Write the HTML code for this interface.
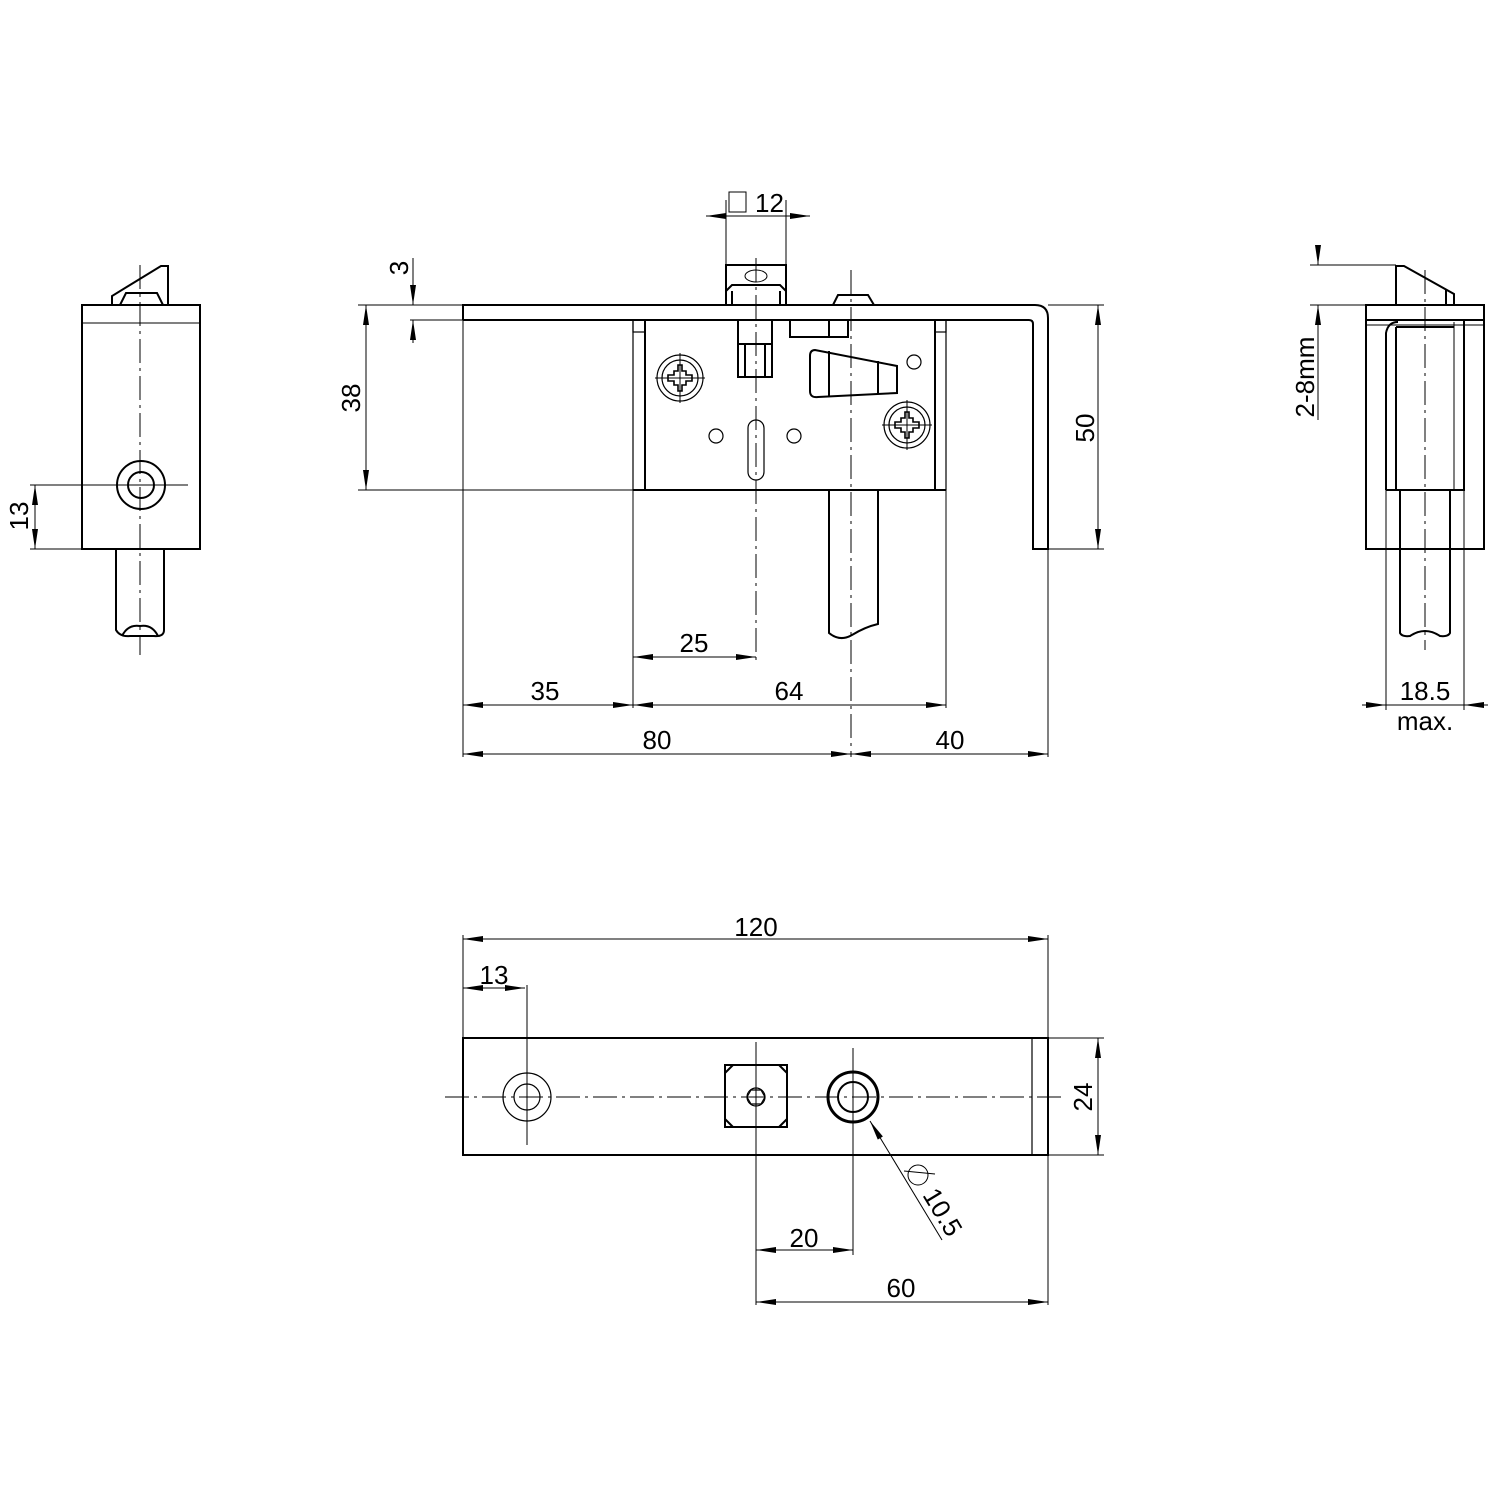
<!DOCTYPE html>
<html><head><meta charset="utf-8"><style>
html,body{margin:0;padding:0;background:#fff}
svg{display:block}
text{font-family:"Liberation Sans",Arial,sans-serif;font-size:26px;fill:#000}
</style></head><body>
<svg width="1500" height="1500" viewBox="0 0 1500 1500" xmlns="http://www.w3.org/2000/svg">
<defs>
<marker id="a" viewBox="0 0 20 8" refX="20" refY="4" markerWidth="20" markerHeight="8" markerUnits="userSpaceOnUse" orient="auto-start-reverse"><path d="M0,1 L20,4 L0,7 Z" fill="#000"/></marker>
</defs>
<g fill="none" stroke="#000">
<!-- ============ LEFT SIDE VIEW ============ -->
<g stroke-width="2">
<rect x="82" y="305" width="118" height="244"/>
<path d="M112,305 V296 L161,266 H168 V305"/>
<path d="M120,305 L126,293 H157 L163,305"/>
<circle cx="141" cy="485" r="24"/>
<circle cx="141" cy="485" r="13"/>
<path d="M116,549 V630 Q120,637 130,636 H154 Q164,637 164,630 V549"/>
<path d="M122,636 Q128,624 140,626 Q152,624 158,636"/>
</g>
<g stroke-width="1">
<line x1="82" y1="323" x2="200" y2="323"/>
<line x1="30" y1="485" x2="188" y2="485"/>
<line x1="128" y1="485" x2="154" y2="485"/>
<line x1="30" y1="549" x2="82" y2="549"/>
<line x1="140" y1="265" x2="140" y2="655" stroke-dasharray="24,5,3,5"/>
<line x1="35" y1="485" x2="35" y2="549" marker-start="url(#a)" marker-end="url(#a)"/>
</g>

<!-- ============ FRONT VIEW ============ -->
<g stroke-width="2">
<!-- plate + bend -->
<path d="M463,320 V305 H1035 Q1048,305 1048,318 V549 H1033 V324 Q1033,320 1029,320 H463"/>
<!-- lock case -->
<rect x="645" y="320" width="290" height="170"/>
<line x1="633" y1="490" x2="946" y2="490"/>
<!-- spindle block above -->
<path d="M726,305 V265 H786 V305"/>
<path d="M726,291 L732,285 H780 L786,291"/>
<line x1="732" y1="291" x2="732" y2="305"/><line x1="780" y1="291" x2="780" y2="305"/>
<!-- stub above plate -->
<path d="M833,305 L838,295 H868 L874,305"/>
<!-- spindle below plate -->
<rect x="738" y="320" width="34" height="57"/>
<line x1="738" y1="344" x2="772" y2="344"/>
<line x1="745" y1="344" x2="745" y2="377"/><line x1="765" y1="344" x2="765" y2="377"/>
<!-- block under plate -->
<rect x="790" y="320" width="58" height="17"/>
<line x1="829" y1="320" x2="829" y2="337"/>
<!-- wedge -->
<path d="M815,350 Q810,350 810,356 V391 Q810,398 818,397 L897,393 V366 Z"/>
<line x1="829" y1="351" x2="829" y2="396"/>
<line x1="878" y1="361" x2="878" y2="394"/>
<!-- bolt -->
<path d="M829,490 V633 Q840,642 852,635 Q865,627 878,624 V490"/>
</g>
<g stroke-width="1.2">
<line x1="633" y1="320" x2="633" y2="490"/>
<line x1="946" y1="320" x2="946" y2="490"/>
<rect x="633" y="320" width="12" height="12"/><rect x="935" y="320" width="11" height="12"/>
<circle cx="680" cy="378" r="23"/><circle cx="680" cy="378" r="18"/>
<circle cx="907" cy="425" r="23"/><circle cx="907" cy="425" r="18"/>
<circle cx="914" cy="362" r="7"/>
<circle cx="716" cy="436" r="7"/><circle cx="794" cy="436" r="7"/>
<rect x="748" y="420" width="16" height="60" rx="8"/>
</g>
<g stroke-width="1.6">
<path d="M674,371 h4 v-6 h4 v6 h4 v4 h6 v6 h-6 v4 h-4 v6 h-4 v-6 h-4 v-4 h-6 v-6 h6z"/>
<path d="M901,418 h4 v-6 h4 v6 h4 v4 h6 v6 h-6 v4 h-4 v6 h-4 v-6 h-4 v-4 h-6 v-6 h6z"/>
</g>
<g stroke-width="1">
<line x1="655" y1="378" x2="705" y2="378"/><line x1="680" y1="353" x2="680" y2="403"/>
<line x1="882" y1="425" x2="932" y2="425"/><line x1="907" y1="400" x2="907" y2="450"/>
<line x1="756" y1="258" x2="756" y2="665" stroke-dasharray="24,5,3,5"/>
<line x1="851" y1="270" x2="851" y2="757" stroke-dasharray="24,5,3,5"/>
<ellipse cx="756" cy="276" rx="11" ry="6"/>
<!-- extension lines -->
<line x1="463" y1="320" x2="463" y2="757"/>
<line x1="633" y1="490" x2="633" y2="708"/>
<line x1="946" y1="490" x2="946" y2="708"/>
<line x1="1048" y1="549" x2="1048" y2="757"/>
<line x1="726" y1="200" x2="726" y2="265"/><line x1="786" y1="200" x2="786" y2="265"/>
<line x1="358" y1="305" x2="463" y2="305"/>
<line x1="410" y1="320" x2="463" y2="320"/>
<line x1="358" y1="490" x2="645" y2="490"/>
<line x1="1048" y1="305" x2="1104" y2="305"/>
<line x1="1048" y1="549" x2="1104" y2="549"/>
<!-- dims -->
<line x1="706" y1="216" x2="726" y2="216" marker-start="url(#a)"/>
<line x1="726" y1="216" x2="810" y2="216" marker-end="url(#a)" transform="rotate(0)"/>
<line x1="413" y1="258" x2="413" y2="305" marker-end="url(#a)"/>
<line x1="413" y1="343" x2="413" y2="320" marker-end="url(#a)"/>
<line x1="366" y1="305" x2="366" y2="490" marker-start="url(#a)" marker-end="url(#a)"/>
<line x1="1098" y1="305" x2="1098" y2="549" marker-start="url(#a)" marker-end="url(#a)"/>
<line x1="633" y1="657" x2="756" y2="657" marker-start="url(#a)" marker-end="url(#a)"/>
<line x1="463" y1="705" x2="633" y2="705" marker-start="url(#a)" marker-end="url(#a)"/>
<line x1="633" y1="705" x2="946" y2="705" marker-start="url(#a)" marker-end="url(#a)"/>
<line x1="463" y1="754" x2="851" y2="754" marker-start="url(#a)" marker-end="url(#a)"/>
<line x1="851" y1="754" x2="1048" y2="754" marker-start="url(#a)" marker-end="url(#a)"/>
<rect x="729" y="192" width="17" height="20"/>
</g>

<!-- ============ RIGHT SIDE VIEW ============ -->
<g stroke-width="2">
<rect x="1366" y="305" width="118" height="244"/>
<line x1="1366" y1="320" x2="1484" y2="320"/>
<path d="M1396,305 V266 H1404 L1454,294 V305"/>
<line x1="1446" y1="290" x2="1446" y2="305"/>
<path d="M1386,490 V333 Q1388,322 1398,322 M1386,490 H1464 V321 M1396,327 H1454"/>
<line x1="1396" y1="327" x2="1396" y2="490"/>
<path d="M1400,490 V633 Q1402,637 1410,636 Q1425,626 1440,636 Q1448,637 1450,633 V490"/>
</g>
<g stroke-width="1">
<line x1="1366" y1="325" x2="1484" y2="325"/>
<line x1="1454" y1="322" x2="1454" y2="490"/>
<line x1="1386" y1="490" x2="1386" y2="710"/>
<line x1="1464" y1="490" x2="1464" y2="710"/>
<line x1="1425" y1="270" x2="1425" y2="650" stroke-dasharray="24,5,3,5"/>
<line x1="1310" y1="265" x2="1396" y2="265"/>
<line x1="1310" y1="305" x2="1366" y2="305"/>
<line x1="1318" y1="245" x2="1318" y2="265" marker-end="url(#a)"/>
<line x1="1318" y1="420" x2="1318" y2="305" marker-end="url(#a)"/>
<line x1="1362" y1="705" x2="1386" y2="705" marker-end="url(#a)"/>
<line x1="1386" y1="705" x2="1464" y2="705"/>
<line x1="1488" y1="705" x2="1464" y2="705" marker-end="url(#a)"/>
</g>

<!-- ============ BOTTOM VIEW ============ -->
<g stroke-width="2">
<rect x="463" y="1038" width="585" height="117"/>
<rect x="725" y="1065" width="62" height="62"/>
<path d="M725,1073 L733,1065 M779,1065 L787,1073 M725,1119 L733,1127 M779,1127 L787,1119"/>
<circle cx="853" cy="1097" r="25" stroke-width="3"/>
<circle cx="853" cy="1097" r="15"/>
</g>
<g stroke-width="1.2">
<line x1="1032" y1="1038" x2="1032" y2="1155"/>
<circle cx="527" cy="1097" r="24"/><circle cx="527" cy="1097" r="13"/>
<circle cx="756" cy="1097" r="9"/>
<path d="M751,1090 h10 l4,7 l-4,7 h-10 l-4,-7z"/>
</g>
<g stroke-width="1">
<line x1="445" y1="1097" x2="1062" y2="1097" stroke-dasharray="24,5,3,5"/>
<line x1="527" y1="985" x2="527" y2="1145"/>
<line x1="756" y1="1042" x2="756" y2="1305"/>
<line x1="853" y1="1048" x2="853" y2="1255"/>
<line x1="463" y1="935" x2="463" y2="1038"/>
<line x1="1048" y1="935" x2="1048" y2="1305"/>
<line x1="1048" y1="1038" x2="1104" y2="1038"/>
<line x1="1048" y1="1155" x2="1104" y2="1155"/>
<line x1="463" y1="939" x2="1048" y2="939" marker-start="url(#a)" marker-end="url(#a)"/>
<line x1="463" y1="988" x2="525" y2="988" marker-start="url(#a)" marker-end="url(#a)"/>
<line x1="1098" y1="1038" x2="1098" y2="1155" marker-start="url(#a)" marker-end="url(#a)"/>
<line x1="756" y1="1250" x2="853" y2="1250" marker-start="url(#a)" marker-end="url(#a)"/>
<line x1="756" y1="1302" x2="1048" y2="1302" marker-start="url(#a)" marker-end="url(#a)"/>
<line x1="942" y1="1240" x2="870" y2="1121" marker-end="url(#a)"/>
<circle cx="918" cy="1175" r="10"/>
<line x1="904" y1="1171" x2="935" y2="1174"/>
</g>
</g>

<!-- ============ TEXT ============ -->
<text x="755" y="212" font-size="26">12</text>
<text transform="translate(408,268) rotate(-90)" text-anchor="middle">3</text>
<text transform="translate(360,398) rotate(-90)" text-anchor="middle">38</text>
<text transform="translate(1094,428) rotate(-90)" text-anchor="middle">50</text>
<text x="694" y="652" text-anchor="middle">25</text>
<text x="545" y="700" text-anchor="middle">35</text>
<text x="789" y="700" text-anchor="middle">64</text>
<text x="657" y="749" text-anchor="middle">80</text>
<text x="950" y="749" text-anchor="middle">40</text>
<text transform="translate(28,516) rotate(-90)" text-anchor="middle">13</text>
<text transform="translate(1314,377) rotate(-90)" text-anchor="middle">2-8mm</text>
<text x="1425" y="700" text-anchor="middle">18.5</text>
<text x="1425" y="730" text-anchor="middle">max.</text>
<text x="756" y="936" text-anchor="middle">120</text>
<text x="494" y="984" text-anchor="middle">13</text>
<text transform="translate(1092,1097) rotate(-90)" text-anchor="middle">24</text>
<text x="804" y="1247" text-anchor="middle">20</text>
<text x="901" y="1297" text-anchor="middle">60</text>
<text transform="translate(922,1195) rotate(59)">10.5</text>
</svg>
</body></html>
